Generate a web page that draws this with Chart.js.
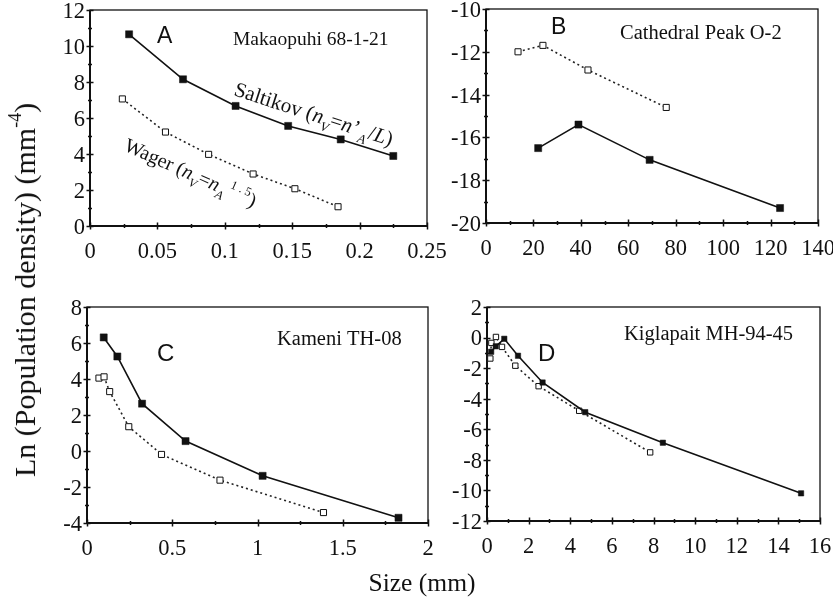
<!DOCTYPE html>
<html>
<head>
<meta charset="utf-8">
<script src="https://cdn.jsdelivr.net/npm/chart.js@4.4.0/dist/chart.umd.min.js"></script>
<style>
  body { margin: 0; background: #fff; }
  #wrap { position: relative; width: 833px; height: 602px; overflow: hidden; }
  #wrap canvas { position: absolute; left: 0; top: 0; }
  .ttl { position: absolute; font-family: "Liberation Serif", "Times New Roman", serif; color: #111; white-space: nowrap; }
  #ytitle { font-size: 30px; left: 25px; top: 290px; transform: translate(-50%, -50%) rotate(-90deg); }
  #ytitle sup { font-size: 18px; position: relative; top: -3px; }
  #xtitle { font-size: 25.5px; left: 422px; top: 583px; transform: translate(-50%, -50%); }
</style>
</head>
<body>
<div id="wrap">
  <canvas id="pA" width="833" height="602"></canvas>
  <canvas id="pB" width="833" height="602"></canvas>
  <canvas id="pC" width="833" height="602"></canvas>
  <canvas id="pD" width="833" height="602"></canvas>
  <div class="ttl" id="ytitle">Ln (Population density) (mm<sup>-4</sup>)</div>
  <div class="ttl" id="xtitle">Size (mm)</div>
</div>
<script>
const W = 833, H = 602;
const serif = '"Liberation Serif", "Times New Roman", serif';
const sans = '"Liberation Sans", Arial, sans-serif';

// A - Makaopuhi 68-1-21
const aSaltX = [0.029, 0.069, 0.108, 0.147, 0.186, 0.225];
const aSaltY = [10.65, 8.15, 6.67, 5.56, 4.81, 3.89];
const aWagX = [0.024, 0.056, 0.088, 0.121, 0.152, 0.184];
const aWagY = [7.06, 5.22, 3.98, 2.89, 2.07, 1.07];

// B - Cathedral Peak O-2
const bSaltX = [22, 39, 69, 124];
const bSaltY = [-16.5, -15.4, -17.05, -19.3];
const bWagX = [13.5, 24, 43, 76];
const bWagY = [-12.0, -11.7, -12.85, -14.6];

// C - Kameni TH-08
const cSaltX = [0.098, 0.178, 0.323, 0.578, 1.03, 1.827];
const cSaltY = [6.31, 5.25, 2.63, 0.55, -1.38, -3.71];
const cWagX = [0.07, 0.10, 0.133, 0.245, 0.437, 0.78, 1.387];
const cWagY = [4.05, 4.12, 3.30, 1.35, -0.19, -1.62, -3.42];

// D - Kiglapait MH-94-45
const dSaltX = [0.2, 0.42, 0.83, 1.49, 2.67, 4.72, 8.45, 15.09];
const dSaltY = [-0.93, -0.57, -0.08, -1.19, -2.94, -4.88, -6.88, -10.19];
const dWagX = [0.16, 0.21, 0.43, 0.72, 1.36, 2.48, 4.43, 7.84];
const dWagY = [-1.37, -0.35, 0.04, -0.61, -1.84, -3.18, -4.79, -7.51];

function pts(xs, ys) {
  return xs.map((x, i) => ({ x: x, y: ys[i] }));
}

function labelEvery(step) {
  return v => {
    const q = v / step;
    return Math.abs(q - Math.round(q)) < 1e-6 ? String(+v.toFixed(3)) : '';
  };
}

function solid(xs, ys, r) {
  return {
    data: pts(xs, ys), showLine: true, tension: 0,
    borderColor: '#111', borderWidth: 1.6,
    pointStyle: 'rect', pointRadius: r,
    pointBackgroundColor: '#111', pointBorderColor: '#111', pointBorderWidth: 0.5
  };
}

function dotted(xs, ys, r) {
  return {
    data: pts(xs, ys), showLine: true, tension: 0,
    borderColor: '#222', borderWidth: 1.6, borderDash: [2, 3],
    pointStyle: 'rect', pointRadius: r,
    pointBackgroundColor: '#fff', pointBorderColor: '#111', pointBorderWidth: 1
  };
}

// text with italic / sub / sup pieces, drawn rotated
function drawRich(ctx, x, y, angle, size, segs) {
  ctx.save();
  ctx.translate(x, y);
  ctx.rotate(angle * Math.PI / 180);
  ctx.fillStyle = '#111';
  ctx.textBaseline = 'alphabetic';
  ctx.textAlign = 'left';
  let cx = 0;
  segs.forEach(s => {
    const fs = s.pos ? size * 0.62 : size;
    ctx.font = (s.it ? 'italic ' : '') + fs + 'px ' + serif;
    const dy = s.pos === 'sub' ? size * 0.3 : s.pos === 'sup' ? -size * 0.45 : 0;
    cx += s.dx || 0;
    ctx.fillText(s.t, cx, dy);
    cx += ctx.measureText(s.t).width;
  });
  ctx.restore();
}

function deco(txt) {
  return {
    id: 'deco',
    beforeDatasetsDraw(chart) {
      const { ctx, chartArea: a, scales: { x, y } } = chart;
      ctx.save();
      ctx.strokeStyle = '#111';
      ctx.lineWidth = 1.3;
      ctx.strokeRect(a.left, a.top, a.right - a.left, a.bottom - a.top);
      ctx.lineWidth = 2;
      ctx.beginPath();
      ctx.moveTo(a.left, a.top);
      ctx.lineTo(a.left, a.bottom);
      ctx.lineTo(a.right, a.bottom);
      ctx.stroke();
      ctx.lineWidth = 1.5;
      ctx.beginPath();
      x.ticks.forEach(t => {
        const px = Math.round(x.getPixelForValue(t.value)) + 0.5;
        const h = t.label ? 3.5 : 2;
        ctx.moveTo(px, a.bottom - h);
        ctx.lineTo(px, a.bottom + h);
      });
      y.ticks.forEach(t => {
        const py = Math.round(y.getPixelForValue(t.value)) + 0.5;
        const h = t.label ? 3.5 : 2;
        ctx.moveTo(a.left - h, py);
        ctx.lineTo(a.left + h, py);
      });
      ctx.stroke();
      ctx.restore();
    },
    afterDraw(chart) {
      const ctx = chart.ctx;
      ctx.save();
      ctx.fillStyle = '#111';
      ctx.textBaseline = 'alphabetic';
      ctx.textAlign = 'left';
      ctx.font = txt.letterSize + 'px ' + sans;
      ctx.fillText(txt.letter, txt.lx, txt.ly);
      ctx.font = txt.titleSize + 'px ' + serif;
      ctx.fillText(txt.title, txt.tx, txt.ty);
      ctx.restore();
      (txt.notes || []).forEach(n => drawRich(ctx, n.x, n.y, n.angle, n.size, n.segs));
    }
  };
}

function makePanel(id, box, xr, yr, datasets, txt) {
  const yW = 50, xH = 40;
  const tickFont = { family: serif, size: 22.5 };
  new Chart(document.getElementById(id), {
    type: 'scatter',
    data: { datasets: datasets },
    options: {
      responsive: false,
      animation: false,
      events: [],
      layout: { padding: { left: box.l - yW, right: W - box.r, top: box.t, bottom: H - box.b - xH } },
      plugins: { legend: { display: false }, tooltip: { enabled: false } },
      scales: {
        x: {
          type: 'linear', min: xr.min, max: xr.max,
          grid: { display: false, drawTicks: false },
          border: { display: false },
          ticks: { stepSize: xr.step, autoSkip: false, maxRotation: 0, padding: 13, color: '#111', font: tickFont, callback: labelEvery(xr.lab) },
          afterFit: s => { s.height = xH; s.paddingLeft = 0; s.paddingRight = 0; }
        },
        y: {
          type: 'linear', min: yr.min, max: yr.max,
          grid: { display: false, drawTicks: false },
          border: { display: false },
          ticks: { stepSize: yr.step, autoSkip: false, padding: 5, labelOffset: 2, color: '#111', font: tickFont, callback: labelEvery(yr.lab) },
          afterFit: s => { s.width = yW; s.paddingTop = 0; s.paddingBottom = 0; }
        }
      }
    },
    plugins: [deco(txt)]
  });
}

makePanel('pA', { l: 90, r: 427, t: 10, b: 226 },
  { min: 0, max: 0.25, step: 0.025, lab: 0.05 },
  { min: 0, max: 12, step: 1, lab: 2 },
  [solid(aSaltX, aSaltY, 5), dotted(aWagX, aWagY, 4.3)],
  {
    letter: 'A', lx: 157, ly: 43, letterSize: 23,
    title: 'Makaopuhi 68-1-21', tx: 233, ty: 45, titleSize: 19.5,
    notes: [
      { x: 233, y: 95, angle: 18, size: 21, segs: [
        { t: 'Saltikov (' }, { t: 'n', it: true }, { t: 'V', it: true, pos: 'sub' }, { t: '=' },
        { t: 'n', it: true }, { t: '\u2019', dx: 1 }, { t: 'A', it: true, pos: 'sub', dx: 1 }, { t: '/', dx: 1 },
        { t: 'L', it: true }, { t: ')' }
      ] },
      { x: 123, y: 150, angle: 24, size: 20, segs: [
        { t: 'Wager (' }, { t: 'n', it: true }, { t: 'V', it: true, pos: 'sub' }, { t: '=' },
        { t: 'n', it: true }, { t: 'A', it: true, pos: 'sub' }, { t: '1 . 5', pos: 'sup', dx: 3 },
        { t: ')', dx: 1 }
      ] }
    ]
  });

makePanel('pB', { l: 486, r: 818, t: 9, b: 223 },
  { min: 0, max: 140, step: 10, lab: 20 },
  { min: -20, max: -10, step: 1, lab: 2 },
  [solid(bSaltX, bSaltY, 5), dotted(bWagX, bWagY, 4.3)],
  { letter: 'B', lx: 551, ly: 34, letterSize: 23, title: 'Cathedral Peak O-2', tx: 620, ty: 38.5, titleSize: 20.5 });

makePanel('pC', { l: 87, r: 428, t: 307, b: 523 },
  { min: 0, max: 2, step: 0.25, lab: 0.5 },
  { min: -4, max: 8, step: 1, lab: 2 },
  [solid(cSaltX, cSaltY, 5), dotted(cWagX, cWagY, 4.3)],
  { letter: 'C', lx: 157, ly: 361, letterSize: 24, title: 'Kameni TH-08', tx: 277, ty: 345, titleSize: 20.5 });

makePanel('pD', { l: 487, r: 820, t: 307, b: 521 },
  { min: 0, max: 16, step: 1, lab: 2 },
  { min: -12, max: 2, step: 1, lab: 2 },
  [solid(dSaltX, dSaltY, 3.8), dotted(dWagX, dWagY, 3.8)],
  { letter: 'D', lx: 538, ly: 361, letterSize: 24, title: 'Kiglapait MH-94-45', tx: 624, ty: 340, titleSize: 20.5 });
</script>
</body>
</html>
